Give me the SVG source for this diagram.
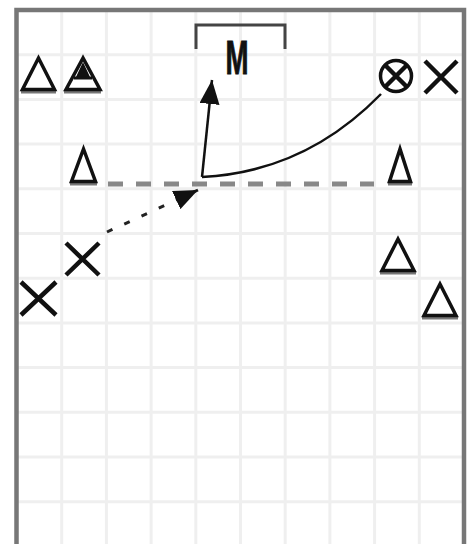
<svg xmlns="http://www.w3.org/2000/svg" width="467" height="544" viewBox="0 0 467 544">
  <style>
    .grid line { stroke: #efefef; stroke-width: 3; }
    .frame { fill: none; stroke: #777; stroke-width: 4.5; }
    .tri { fill: #fff; stroke: #111; stroke-width: 3.5; stroke-linejoin: miter; }
    .base { stroke: #777; stroke-width: 3; }
    .cross { stroke: #111; stroke-width: 4.5; stroke-linecap: butt; fill: none; }
    .ball { stroke: #111; stroke-width: 3.5; fill: #fff; }
    .label { font-family: "Liberation Sans", Arial, sans-serif; font-weight: bold; fill: #111; stroke: #111; stroke-width: 1; }
    .solid { fill: none; stroke: #111; stroke-width: 2.5; }
    .dotted { fill: none; stroke: #222; stroke-width: 3; stroke-dasharray: 6 13; }
    .dashed { fill: none; stroke: #888; stroke-width: 5; stroke-dasharray: 15 13; }
    .bracket { fill: none; stroke: #444; stroke-width: 3; }
  </style>
  <defs>
    <marker id="head" viewBox="0 0 24 20" refX="24" refY="10" markerWidth="24" markerHeight="20" markerUnits="userSpaceOnUse" orient="auto">
      <path d="M0,0 L24,10 L0,20 z" fill="#111"/>
    </marker>
  </defs>
  <rect width="467" height="544" fill="#fff"/>
  <g class="grid" id="grid">
    <line x1="61.7" y1="10" x2="61.7" y2="544"/>
    <line x1="106.4" y1="10" x2="106.4" y2="544"/>
    <line x1="151.1" y1="10" x2="151.1" y2="544"/>
    <line x1="195.8" y1="10" x2="195.8" y2="544"/>
    <line x1="240.5" y1="10" x2="240.5" y2="544"/>
    <line x1="285.2" y1="10" x2="285.2" y2="544"/>
    <line x1="329.9" y1="10" x2="329.9" y2="544"/>
    <line x1="374.6" y1="10" x2="374.6" y2="544"/>
    <line x1="419.3" y1="10" x2="419.3" y2="544"/>
    <line x1="16" y1="54.7" x2="464" y2="54.7"/>
    <line x1="16" y1="99.4" x2="464" y2="99.4"/>
    <line x1="16" y1="144.1" x2="464" y2="144.1"/>
    <line x1="16" y1="188.8" x2="464" y2="188.8"/>
    <line x1="16" y1="233.5" x2="464" y2="233.5"/>
    <line x1="16" y1="278.2" x2="464" y2="278.2"/>
    <line x1="16" y1="322.9" x2="464" y2="322.9"/>
    <line x1="16" y1="367.6" x2="464" y2="367.6"/>
    <line x1="16" y1="412.3" x2="464" y2="412.3"/>
    <line x1="16" y1="457" x2="464" y2="457"/>
    <line x1="16" y1="501.7" x2="464" y2="501.7"/>
  </g>
  <path class="frame" d="M16.5,548 V10 H464 V548"/>

  <g id="goal">
    <path class="bracket" d="M196,49 V25 H285 V49"/>
    <text class="label" x="237" y="74" font-size="48" text-anchor="middle" textLength="23" lengthAdjust="spacingAndGlyphs">M</text>
  </g>

  <g id="connectors">
    <path class="dashed" d="M108,184 H374"/>
    <path class="solid" d="M202,177 Q305,172 381,94"/>
    <path class="solid" d="M202,177 L212,80" marker-end="url(#head)"/>
    <path class="dotted" d="M107,232 L198,190" marker-end="url(#head)"/>
  </g>

  <g id="tri1">
    <line class="base" x1="21" y1="92" x2="56" y2="92"/>
    <polygon class="tri" points="38.5,58 22.5,89.5 54.5,89.5"/>
  </g>
  <g id="tri2">
    <line class="base" x1="64" y1="92" x2="101" y2="92"/>
    <polygon class="tri" points="83,58 66,89.5 100,89.5" stroke-width="4"/>
    <polygon points="83,62 76,77 90,77" fill="#111"/>
    <line x1="74" y1="78" x2="92" y2="78" stroke="#111" stroke-width="3"/>
  </g>
  <g id="tri3">
    <line class="base" x1="70" y1="184" x2="97" y2="184"/>
    <polygon class="tri" points="83.5,149 71.5,181.5 95.5,181.5"/>
  </g>
  <g id="tri4">
    <line class="base" x1="388" y1="184" x2="412" y2="184"/>
    <polygon class="tri" points="400,149 389.5,181.5 410.5,181.5"/>
  </g>
  <g id="tri5">
    <line class="base" x1="380" y1="273" x2="416" y2="273"/>
    <polygon class="tri" points="398,239 382,270.5 414,270.5"/>
  </g>
  <g id="tri6">
    <line class="base" x1="422" y1="318" x2="458" y2="318"/>
    <polygon class="tri" points="440,284 424,315.5 456,315.5"/>
  </g>

  <g id="ballplayer">
    <circle class="ball" cx="396" cy="76" r="15.5"/>
    <path class="cross" d="M385,65 L407,87 M407,65 L385,87" stroke-width="4"/>
  </g>
  <g id="x1">
    <path class="cross" d="M425,61 L457,93 M457,61 L425,93"/>
  </g>
  <g id="x2">
    <path class="cross" d="M66,243 L99,275 M99,243 L66,275"/>
  </g>
  <g id="x3">
    <path class="cross" d="M21,282 L56,315 M56,282 L21,315"/>
  </g>
</svg>
